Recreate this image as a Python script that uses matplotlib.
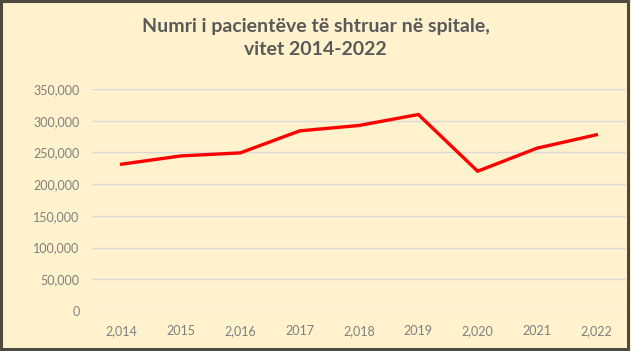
import matplotlib
matplotlib.use('Agg')
import matplotlib.pyplot as plt
from matplotlib.patches import Rectangle
from matplotlib.ticker import FuncFormatter

years = ["2,014", "2015", "2,016", "2017", "2,018", "2019", "2,020", "2021", "2,022"]
patients = [231500, 244500, 249300, 284000, 292500, 309800, 220400, 256700, 277800]

title = "Numri i pacientëve të shtruar në spitale,\nvitet 2014-2022"

plt.rcParams['font.family'] = ['Lato', 'DejaVu Sans']

fig = plt.figure(figsize=(6.31, 3.51), dpi=100)
fig.patch.set_facecolor('#FFF2CC')

ax = fig.add_axes([92 / 631, 1 - 311 / 351, (626 - 92) / 631, (311 - 89) / 351])
ax.set_facecolor('#FFF2CC')

x = list(range(len(years)))
ax.plot(x, patients, color='#FF0000', linewidth=2.4, solid_joinstyle='miter', zorder=3)

ax.set_xlim(-0.5, len(years) - 0.5)
ax.set_ylim(0, 350000)
ax.set_yticks(range(0, 350001, 50000))
ax.yaxis.set_major_formatter(FuncFormatter(lambda v, p: f"{int(v):,}"))
ax.set_xticks(x)
ax.set_xticklabels(years)

ax.grid(axis='y', color='#D9D9D9', linewidth=1.0)
ax.set_axisbelow(True)
for s in ax.spines.values():
    s.set_visible(False)
ax.tick_params(length=0, labelsize=9, labelcolor='#7F7F7F')
ax.tick_params(axis='y', pad=9)
ax.tick_params(axis='x', pad=10)

fig.text(0.5, 1 - 38 / 351, title, ha='center', va='center', fontsize=14,
         fontweight='bold', color='#595959', linespacing=1.4)

# dark frame around the chart
fig.patches.append(Rectangle((0.002, 0.006), 0.994, 0.99, transform=fig.transFigure,
                             fill=False, edgecolor='#4D4A40', linewidth=2.2))

fig.savefig('out.png', dpi=100, facecolor=fig.get_facecolor())
